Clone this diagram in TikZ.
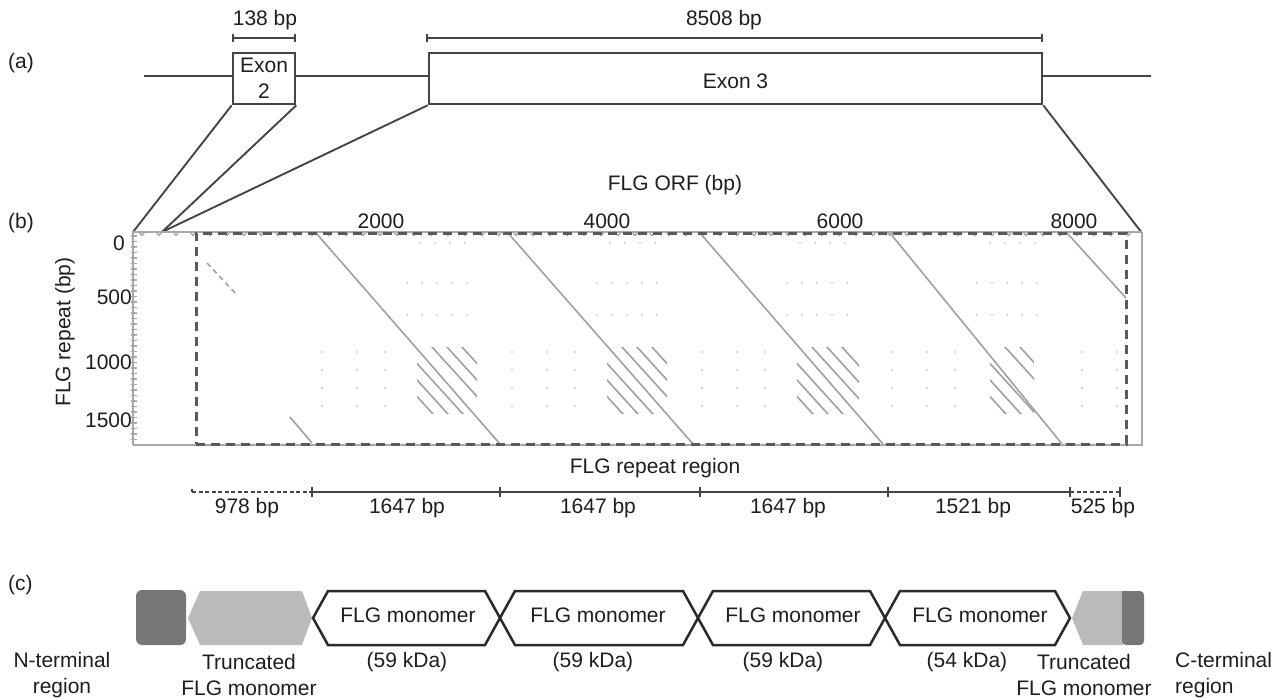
\documentclass[tikz,border=0pt]{standalone}
\usepackage{fontspec}
\setmainfont{Liberation Sans}
\definecolor{ln}{HTML}{454545}
\definecolor{txt}{HTML}{1E1E1E}
\definecolor{dg}{HTML}{A0A0A0}
\definecolor{mk}{HTML}{2A2A2A}
\definecolor{ndark}{HTML}{777777}
\definecolor{nlight}{HTML}{BBBBBB}
\definecolor{frm}{HTML}{A8A8A8}
\definecolor{dsh}{HTML}{5A5A5A}
\definecolor{dotc}{HTML}{D6D6D6}
\begin{document}
\begin{tikzpicture}[x=1pt,y=-1pt,
  every node/.style={font=\fontsize{21}{26}\selectfont, inner sep=0pt, text=txt},
  gene/.style={draw=ln, line width=2.4pt},
  exon/.style={draw=ln, line width=2.6pt, fill=white, inner sep=0pt},
  bracket/.style={draw=ln, line width=2pt},
  zoomline/.style={draw=ln, line width=1.9pt},
  diag/.style={draw=dg, line width=1.6pt},
  frameline/.style={draw=frm, line width=1.8pt},
  repbox/.style={draw=dsh, line width=3pt, dash pattern=on 9pt off 6pt, minimum width=930pt, minimum height=211pt},
  scalebar/.style={draw=ln, line width=1.9pt},
  scaledash/.style={draw=ln, line width=1.5pt, dash pattern=on 4pt off 2.5pt},
  mono/.style={draw=mk, line width=2.5pt, fill=white, line join=miter},
  lab/.style={align=center}
]
\useasboundingbox (0,0) rectangle (1286,699);

% ---------------- (a) ----------------
\node[anchor=west] (la) at (8,63) {(a)};
\node[exon, minimum width=62pt, minimum height=51pt, align=center] (e2) at (264,78.5) {Exon\\2};
\node[exon, minimum width=613pt, minimum height=51pt] (e3) at (735.5,78.5) {};
\node (e3t) at (735.5,81) {Exon 3};
\coordinate (gl) at (144,76);
\coordinate (gr) at (1151,76);
\draw[gene] (gl) -- (e2.west |- gl);
\draw[gene] (e2.east |- gl) -- (e3.west |- gl);
\draw[gene] (e3.east |- gl) -- (gr);

\coordinate (b1l) at (233,38);
\coordinate (b1r) at (295,38);
\coordinate (b2l) at (427,38);
\coordinate (b2r) at (1042,38);
\draw[bracket] (b1l) -- (b1r);
\draw[bracket] ([yshift=4pt]b1l) -- ([yshift=-4pt]b1l);
\draw[bracket] ([yshift=4pt]b1r) -- ([yshift=-4pt]b1r);
\draw[bracket] (b2l) -- (b2r);
\draw[bracket] ([yshift=4pt]b2l) -- ([yshift=-4pt]b2l);
\draw[bracket] ([yshift=4pt]b2r) -- ([yshift=-4pt]b2r);
\node (l138) at (265,20) {138 bp};
\node (l8508) at (724,20) {8508 bp};

% ---------------- (b) ----------------
\node[anchor=west] (lb) at (8,223) {(b)};
\coordinate (p0) at (133,232);
\coordinate (p1) at (162,232);
\coordinate (p2) at (1142,233);
\draw[zoomline] (e2.south west) -- (p0);
\draw[zoomline] (e2.south east) -- (p1);
\draw[zoomline] (e3.south west) -- (p1);
\draw[zoomline] (e3.south east) -- (p2);

\node (orf) at (675,185) {FLG ORF (bp)};
\node (x2) at (381,221) {2000};
\node (x4) at (607,221) {4000};
\node (x6) at (840,221) {6000};
\node (x8) at (1074,221) {8000};
\node[anchor=east] (y0) at (125,243) {0};
\node[anchor=east] (y5) at (132,297) {500};
\node[anchor=east] (y10) at (132,362) {1000};
\node[anchor=east] (y15) at (132,420) {1500};
\node[rotate=90] (ylab) at (65,332) {FLG repeat (bp)};

% background dots
\begin{scope}
\clip (198,235) rectangle (1124,442);
\foreach \xo in {407,597,787,977} {
  \foreach \x in {13,28,43,58} \fill[dotc] (\xo+\x,243) circle (1.4);
  \foreach \yy in {283,315} \foreach \x in {0,15,30,45,60} \fill[dotc] (\xo+\x,\yy) circle (1.4);
}
\foreach \xo in {217,407,597,787,977} {
  \foreach \x in {105,140,168} \foreach \yy in {352,370,388,406} \fill[dotc] (\xo+\x,\yy) circle (1.4);
}
\end{scope}

% hatch clusters
\foreach \xo/\w in {417/60,607/60,797/62,990/44} {
  \begin{scope}
  \clip (\xo,347) rectangle (\xo+\w,413);
  \foreach \k in {-3,-2,-1,1,2,3} \draw[diag] (\xo+\k*15-20,347-22) -- (\xo+\k*15+80,347+88);
  \end{scope}
}

% main diagonals
\draw[diag] (316,233) -- (500,444);
\draw[diag] (508,233) -- (693,444);
\draw[diag] (700,233) -- (883,444);
\draw[diag] (890,233) -- (1062,444);
\draw[diag] (1067,233) -- (1126,298);
\draw[diag] (290,417) -- (312,443);
\draw[diag, dash pattern=on 5pt off 4pt] (207,263) -- (237,295);

% outer frame
\coordinate (fTL) at (133,232);
\coordinate (fTR) at (1142,232);
\coordinate (fBR) at (1142,445);
\coordinate (fBL) at (133,445);
\draw[frameline] (fTR) -- (fBR) -- (fBL);
\draw[draw=frm, line width=1.2pt] (fBL) -- (fTL) -- (fTR);
\foreach \yy in {236,241.5,...,444} \draw[draw=frm, line width=1.2pt] (131,\yy) -- (137,\yy);
\foreach \xx in {139,156,...,1140} \draw[draw=frm, line width=1.4pt] (\xx,232) -- (\xx+3,235.5) -- (\xx+6,232);

% inner dashed repeat region
\node[repbox] (rep) at (661,338.5) {};

% scale bar
\node (rr) at (655,468) {FLG repeat region};
\coordinate (s0) at (192,492);
\coordinate (s1) at (312,492);
\coordinate (s2) at (500,492);
\coordinate (s3) at (700,492);
\coordinate (s4) at (888,492);
\coordinate (s5) at (1070,492);
\coordinate (s6) at (1120,492);
\draw[scaledash] (s0) -- (s1);
\draw[scalebar] (s1) -- (s5);
\draw[scaledash] (s5) -- (s6);
\draw[draw=ln, line width=1.4pt] (s0) -- ([yshift=3pt]s0);
\foreach \s in {s1,s2,s3,s4,s5} \draw[scalebar] ([yshift=5pt]\s) -- ([yshift=-5pt]\s);
\draw[draw=ln, line width=1.4pt] ([yshift=5pt]s6) -- ([yshift=-5pt]s6);
\node (d978) at (247,508) {978 bp};
\node (d1) at (407,508) {1647 bp};
\node (d2) at (598,508) {1647 bp};
\node (d3) at (788,508) {1647 bp};
\node (d1521) at (973,508) {1521 bp};
\node (d525) at (1103,508) {525 bp};

% ---------------- (c) ----------------
\node[anchor=west] (lc) at (8,585) {(c)};
\fill[ndark, rounded corners=6pt] (136,590) rectangle (186,645);
\fill[nlight] (188,618) -- (200,591) -- (302,591) -- (312,618) -- (302,645) -- (200,645) -- cycle;
\foreach \xl/\xr in {313/500,500/698,698/885,885/1070}
  \draw[mono] (\xl,618) -- (\xl+15,591) -- (\xr-15,591) -- (\xr,618) -- (\xr-15,645) -- (\xl+15,645) -- cycle;
\fill[nlight] (1072,618) -- (1083,591) -- (1123,591) -- (1123,645) -- (1083,645) -- cycle;
\fill[ndark, rounded corners=4pt] (1122,591) -- (1144,591) -- (1144,645) -- (1122,645) [sharp corners] -- cycle;

\node (m1) at (408,615) {FLG monomer};
\node (m2) at (598,615) {FLG monomer};
\node (m3) at (793,615) {FLG monomer};
\node (m4) at (980,615) {FLG monomer};
\node (k1) at (407,662) {(59 kDa)};
\node (k2) at (593,662) {(59 kDa)};
\node (k3) at (783,662) {(59 kDa)};
\node (k4) at (967,662) {(54 kDa)};

\node[lab] (nterm) at (62,675) {N-terminal\\region};
\node[lab] (tl) at (249,675) {Truncated\\FLG monomer};
\node[lab] (tr) at (1084,675) {Truncated\\FLG monomer};
\node[align=left, anchor=west] (cterm) at (1175,675) {C-terminal\\region};
\end{tikzpicture}
\end{document}
